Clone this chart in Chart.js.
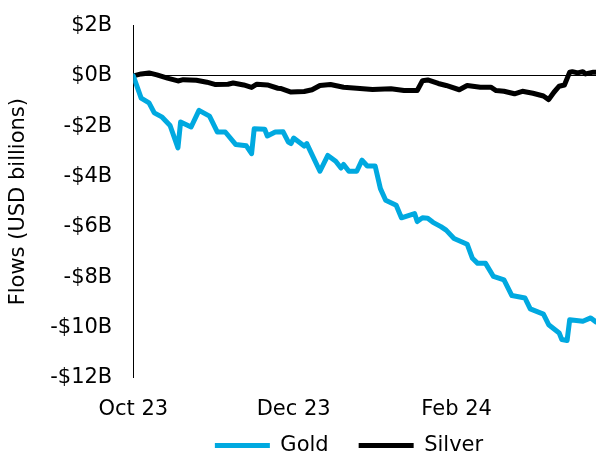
<!DOCTYPE html>
<html>
<head>
<meta charset="utf-8">
<script src="https://cdn.jsdelivr.net/npm/chart.js@4"></script>
<style>
  body { margin: 0; background: #fff; }
</style>
</head>
<body>
<canvas id="flows" width="596" height="454"></canvas>
<script>
'use strict';

// days since 1 Oct 2023, values in USD billions
var goldDays = [0, 3, 6, 8, 11, 14, 17, 18, 22, 25, 29, 32, 35, 39, 43, 45, 46, 50, 51, 54, 57, 59, 60, 61,
    65, 66, 71, 74, 77, 79, 80, 82, 85, 87, 89, 92, 94, 96, 100, 102, 107, 108, 110, 112, 114, 117,
    119, 122, 127, 129, 131, 134, 137, 141, 144, 149, 151, 156, 158, 162, 163, 165, 166, 171, 174, 176];
var goldFlows = [0, -0.88, -1.07, -1.47, -1.64, -1.97, -2.86, -1.83, -2.03, -1.37, -1.6, -2.23, -2.23, -2.73,
    -2.78, -3.09, -2.1, -2.12, -2.39, -2.23, -2.22, -2.63, -2.69, -2.47,
    -2.79, -2.69, -3.79, -3.16, -3.39, -3.66, -3.52, -3.79, -3.79, -3.35, -3.58, -3.58, -4.48, -4.94,
    -5.14, -5.64, -5.47, -5.79, -5.64, -5.66, -5.82, -5.99,
    -6.13, -6.46, -6.69, -7.25, -7.45, -7.45, -7.97, -8.11, -8.73, -8.83, -9.26, -9.47, -9.89, -10.22,
    -10.48, -10.52, -9.69, -9.75, -9.62, -9.78];

var silverDays = [0, 3, 6, 9, 13, 17, 19, 24, 28, 31, 36, 38, 42, 45, 47, 51, 55, 56, 60, 65, 68, 71, 75,
    80, 85, 91, 98, 103, 108, 110, 112, 116, 119, 124, 127, 132, 136, 138, 141, 145, 148, 152, 156,
    158, 160, 162, 164, 166, 167, 169, 171, 172, 175, 176];
var silverFlows = [0, 0.08, 0.12, 0.04, -0.09, -0.2, -0.15, -0.17, -0.25, -0.34, -0.33, -0.28, -0.36, -0.46,
    -0.33, -0.36, -0.49, -0.5, -0.64, -0.62, -0.55, -0.38, -0.34,
    -0.45, -0.49, -0.54, -0.51, -0.58, -0.58, -0.19, -0.16, -0.3, -0.38, -0.55, -0.38, -0.45, -0.45,
    -0.58, -0.61, -0.71, -0.61, -0.69, -0.8,
    -0.94, -0.65, -0.41, -0.36, 0.15, 0.17, 0.12, 0.17, 0.08, 0.15, 0.15];

var tickDays = [0, 61, 123];
var tickLabels = ['Oct 23', 'Dec 23', 'Feb 24'];

function points(xs, ys) {
    var out = [];
    for (var i = 0; i < xs.length; i++) {
        out.push({ x: xs[i], y: ys[i] });
    }
    return out;
}

// legend: wide gap between items but a short box, placed a bit lower
var legendTweak = {
    id: 'legendTweak',
    afterInit: function (chart) {
        var legend = chart.legend;
        var fit = legend.fit;
        legend.fit = function () {
            fit.call(this);
            this.height = 21;
        };
    },
    afterLayout: function (chart) {
        var legend = chart.legend;
        legend.top = 405;
        legend.bottom = 470;
        legend.left = 51;
        legend.right = 647;
    }
};

Chart.defaults.font.family = 'DejaVu Sans';
Chart.defaults.font.size = 21;
Chart.defaults.color = '#000';

var chart = new Chart(document.getElementById('flows'), {
    type: 'line',
    data: {
        datasets: [
            {
                label: 'Gold',
                data: points(goldDays, goldFlows),
                borderColor: '#00a9e0',
                backgroundColor: '#00a9e0',
                borderWidth: 5,
                borderCapStyle: 'round',
                borderJoinStyle: 'round',
                pointRadius: 0
            },
            {
                label: 'Silver',
                data: points(silverDays, silverFlows),
                borderColor: '#000',
                backgroundColor: '#000',
                borderWidth: 5,
                borderCapStyle: 'round',
                borderJoinStyle: 'round',
                pointRadius: 0
            }
        ]
    },
    options: {
        responsive: false,
        animation: false,
        layout: { padding: { top: 0, right: 0, left: 6, bottom: 0 } },
        plugins: {
            tooltip: { enabled: false },
            legend: {
                position: 'bottom',
                labels: {
                    usePointStyle: true,
                    pointStyle: 'line',
                    pointStyleWidth: 55,
                    boxWidth: 55,
                    padding: 30
                }
            }
        },
        scales: {
            x: {
                type: 'linear',
                min: 0,
                max: 176,
                afterBuildTicks: function (axis) {
                    axis.ticks = tickDays.map(function (d) { return { value: d }; });
                },
                ticks: {
                    autoSkip: false,
                    maxRotation: 0,
                    padding: 11,
                    callback: function (value) {
                        var i = tickDays.indexOf(value);
                        return i >= 0 ? tickLabels[i] : '';
                    }
                },
                grid: { display: false },
                border: { display: false }
            },
            y: {
                min: -12,
                max: 2,
                ticks: {
                    stepSize: 2,
                    padding: 13,
                    callback: function (v) {
                        return (v < 0 ? '-' : '') + '$' + Math.abs(v) + 'B';
                    }
                },
                grid: {
                    drawTicks: true,
                    tickLength: 8,
                    tickColor: 'rgba(0,0,0,0)',
                    color: function (ctx) {
                        return ctx.tick && ctx.tick.value === 0 ? '#000' : 'rgba(0,0,0,0)';
                    },
                    lineWidth: 1
                },
                border: { display: true, color: '#000', width: 1 },
                title: {
                    display: true,
                    text: 'Flows (USD billions)',
                    padding: { top: 0, bottom: 6 }
                }
            }
        }
    },
    plugins: [legendTweak]
});
</script>
</body>
</html>
